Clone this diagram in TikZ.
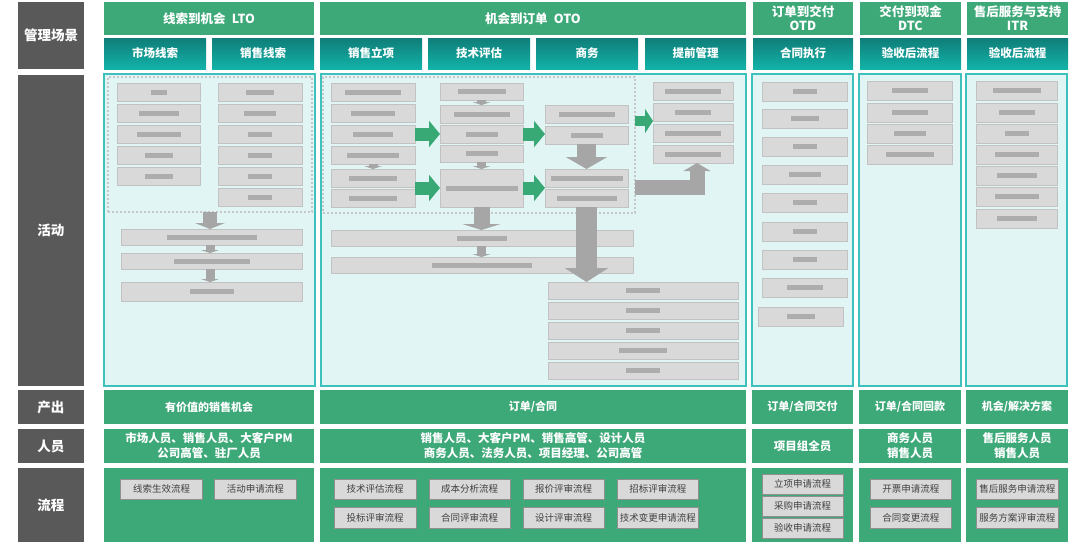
\documentclass[tikz,border=0pt]{standalone}
\usepackage{fontspec}
\setmainfont{Noto Sans CJK SC}
\usetikzlibrary{arrows.meta,calc}
\definecolor{lbl}{HTML}{595959}
\definecolor{hgreen}{HTML}{3DA878}
\definecolor{tealA}{HTML}{0F7E78}
\definecolor{tealB}{HTML}{12B2A9}
\definecolor{actfill}{HTML}{E2F5F5}
\definecolor{actline}{HTML}{3EC1BD}
\definecolor{gfill}{HTML}{D9D9D9}
\definecolor{gline}{HTML}{C2C2C2}
\definecolor{blurc}{HTML}{ADADAD}
\definecolor{arrgray}{HTML}{A6A6A6}
\definecolor{arrgreen}{HTML}{38A874}
\definecolor{btnline}{HTML}{8F8F8F}
\definecolor{btntext}{HTML}{404040}
\newcommand{\bx}[7]{%
  \pgfmathsetmacro\bxw{(#5)-(#3)}%
  \pgfmathsetmacro\bxh{(#6)-(#4)}%
  \node[#1, minimum width=\bxw pt, minimum height=\bxh pt] (#2) at ({((#3)+(#5))/2},{((#4)+(#6))/2}) {#7};}
\tikzset{
  base/.style={inner sep=0pt, outer sep=0pt, align=center},
  lblbox/.style={base, fill=lbl, text=white, font=\bfseries\fontsize{13.5}{15}\selectfont},
  hdr/.style={base, fill=hgreen, text=white, font=\bfseries\fontsize{12.5}{14}\selectfont},
  subhdr/.style={base, top color=tealA, bottom color=tealB, text=white, font=\bfseries\fontsize{11.5}{13}\selectfont},
  act/.style={base, fill=actfill, draw=actline, line width=1.2pt},
  dotframe/.style={base, draw=black!22, line width=1.6pt, dash pattern=on 1.8pt off 2.2pt},
  gbox/.style={base, fill=gfill, draw=gline, line width=1pt,
    path picture={\fill[blurc] ($(path picture bounding box.center)+(-#1,-2.5)$) rectangle ($(path picture bounding box.center)+(#1,2.5)$);}},
  gbox/.default=14,
  outbox/.style={base, fill=hgreen, text=white, font=\bfseries\fontsize{11}{13}\selectfont},
  pplbox/.style={base, fill=hgreen, text=white, font=\bfseries\fontsize{11.5}{15}\selectfont},
  procbox/.style={base, fill=hgreen},
  btn/.style={base, fill=gfill, draw=btnline, line width=0.8pt, text=btntext, font=\fontsize{9.5}{11}\selectfont},
  garrow/.style={draw=arrgreen, line width=13pt, -{Triangle[length=11pt,width=26pt]}},
  grayarrow/.style={draw=arrgray, line width=14pt, line join=miter, -{Triangle[length=6pt,width=30pt]}},
  smallarrow/.style={draw=arrgray, line width=9pt, -{Triangle[length=3pt,width=18pt]}},
}
\begin{document}
\begin{tikzpicture}[x=1pt,y=-1pt]
\fill[white] (0,0) rectangle (1080,544);
\useasboundingbox (0,0) rectangle (1080,544);
% ---------- left labels
\bx{lblbox}{Lgl}{18}{2}{84}{69}{管理场景}
\bx{lblbox}{Lhd}{18}{75}{84}{386}{活动}
\bx{lblbox}{Lcc}{18}{390}{84}{424}{产出}
\bx{lblbox}{Lry}{18}{429}{84}{463}{人员}
\bx{lblbox}{Llc}{18}{468}{84}{542}{流程}
% ---------- headers
\bx{hdr}{Hlto}{104}{2}{314}{35}{线索到机会\hspace{0.5em}LTO}
\bx{hdr}{Hoto}{320}{2}{746}{35}{机会到订单\hspace{0.5em}OTO}
\bx{hdr}{Hotd}{753}{2}{853}{35}{订单到交付\\OTD}
\bx{hdr}{Hdtc}{860}{2}{961}{35}{交付到现金\\DTC}
\bx{hdr}{Hitr}{967}{2}{1068}{35}{售后服务与支持\\ITR}
\bx{subhdr}{S1}{104}{38}{206}{69}{市场线索}
\bx{subhdr}{S2}{212}{38}{314}{69}{销售线索}
\bx{subhdr}{S3}{320}{38}{422}{69}{销售立项}
\bx{subhdr}{S4}{428}{38}{530}{69}{技术评估}
\bx{subhdr}{S5}{536}{38}{638}{69}{商务}
\bx{subhdr}{S6}{645}{38}{746}{69}{提前管理}
\bx{subhdr}{S7}{753}{38}{853}{69}{合同执行}
\bx{subhdr}{S8}{860}{38}{961}{69}{验收后流程}
\bx{subhdr}{S9}{967}{38}{1068}{69}{验收后流程}
% ---------- activity frames
\bx{act}{Alto}{104}{74}{315}{386}{}
\bx{act}{Aoto}{321}{74}{746}{386}{}
\bx{act}{Aotd}{752}{74}{853}{386}{}
\bx{act}{Adtc}{859}{74}{961}{386}{}
\bx{act}{Aitr}{966}{74}{1067}{386}{}
% ---------- LTO activities
\bx{dotframe}{dL}{108}{77}{312}{212}{}
\foreach \i/\y/\w in {1/83/8,2/104/20,3/125/22,4/146/14,5/167/14}{\bx{gbox=\w}{la\i}{117}{\y}{200}{\y+18}{}}
\foreach \i/\y/\w in {1/83/14,2/104/16,3/125/12,4/146/12,5/167/12,6/188/12}{\bx{gbox=\w}{lb\i}{218}{\y}{302}{\y+18}{}}
\bx{gbox=45}{lw1}{121}{229}{302}{245}{}
\bx{gbox=38}{lw2}{121}{253}{302}{269}{}
\bx{gbox=22}{lw3}{121}{282}{302}{301}{}
\draw[grayarrow] (dL.south) -- (dL.south |- lw1.north);
\draw[smallarrow] (lw1.south -| dL.south) -- (lw2.north -| dL.south);
\draw[smallarrow] (lw2.south -| dL.south) -- (lw3.north -| dL.south);
% ---------- OTO activities
\bx{dotframe}{dO}{323}{77}{635}{213}{}
\foreach \i/\y/\w in {1/83/28,2/104/22,3/125/20,4/146/26}{\bx{gbox=\w}{a\i}{331}{\y}{415}{\y+18}{}}
\bx{gbox=24}{a5}{331}{169}{415}{187}{}
\bx{gbox=24}{a6}{331}{189}{415}{207}{}
\bx{gbox=24}{b0}{440}{83}{523}{100}{}
\bx{gbox=28}{b1}{440}{105}{523}{123}{}
\bx{gbox=16}{b2}{440}{125}{523}{143}{}
\bx{gbox=16}{b3}{440}{145}{523}{162}{}
\bx{gbox=36}{bT}{440}{169}{523}{207}{}
\bx{gbox=28}{c1}{545}{105}{628}{123}{}
\bx{gbox=16}{c2}{545}{126}{628}{144}{}
\bx{gbox=36}{c3}{545}{169}{628}{187}{}
\bx{gbox=30}{c4}{545}{189}{628}{207}{}
\foreach \i/\y/\w in {1/82/28,2/103/18,3/124/28,4/145/28}{\bx{gbox=\w}{d\i}{653}{\y}{733}{\y+18}{}}
\bx{gbox=25}{ow1}{331}{230}{633}{246}{}
\bx{gbox=50}{ow2}{331}{257}{633}{273}{}
\foreach \i/\y/\w in {1/282/17,2/302/17,3/322/17,4/342/24,5/362/17}{\bx{gbox=\w}{s\i}{548}{\y}{738}{\y+17}{}}
\coordinate (dIn) at ($(d4.south)+(4,0)$);
\draw[smallarrow] (a4.south) -- (a5.north);
\draw[smallarrow] (b0.south) -- (b1.north);
\draw[smallarrow] (b3.south) -- (bT.north);
\draw[garrow] (a2.east |- b2.west) -- (b2.west);
\draw[garrow] (a5.east |- bT.west) -- (bT.west);
\draw[garrow] (b2.east) -- (c2.west |- b2.east);
\draw[garrow] (bT.east) -- (c3.west |- bT.east);
\draw[garrow, line width=10pt, -{Triangle[length=8pt,width=24pt]}] (dO.east |- d2.south west) -- (d2.south west);
\draw[grayarrow, line width=19pt, -{Triangle[length=12pt,width=41pt]}] (c2.south) -- (c3.north);
\draw[grayarrow, line width=15pt, -{Triangle[length=8pt,width=27pt]}] (dO.east |- c3.south) -| (dIn);
\draw[grayarrow, line width=16pt, -{Triangle[length=6pt,width=38pt]}] (bT.south) -- (bT.south |- ow1.north);
\draw[smallarrow] (ow1.south -| bT.south) -- (ow2.north -| bT.south);
\draw[grayarrow, line width=21pt, -{Triangle[length=14pt,width=43pt]}] (c4.south) -- (c4.south |- s1.north);
% ---------- OTD / DTC / ITR activities
\foreach \i/\y/\w in {1/82/12,2/109/14,3/137/12,4/165/16,5/193/12,6/222/12,7/250/12,8/278/18}{\bx{gbox=\w}{o\i}{762}{\y}{847}{\y+19}{}}
\bx{gbox=14}{o9}{758}{307}{843}{326}{}
\foreach \i/\y/\w in {1/81/18,2/103/18,3/124/16,4/145/24}{\bx{gbox=\w}{t\i}{867}{\y}{952}{\y+19}{}}
\foreach \i/\y/\w in {1/81/24,2/103/18,3/124/12,4/145/22,5/166/20,6/187/22,7/209/20}{\bx{gbox=\w}{i\i}{976}{\y}{1057}{\y+19}{}}
% ---------- output row
\bx{outbox}{Plto}{104}{390}{314}{424}{有价值的销售机会}
\bx{outbox}{Poto}{320}{390}{746}{424}{订单/合同}
\bx{outbox}{Potd}{752}{390}{853}{424}{订单/合同交付}
\bx{outbox}{Pdtc}{859}{390}{961}{424}{订单/合同回款}
\bx{outbox}{Pitr}{966}{390}{1068}{424}{机会/解决方案}
% ---------- people row
\bx{pplbox}{Rlto}{104}{429}{314}{463}{市场人员、销售人员、大客户PM\\公司高管、驻厂人员}
\bx{pplbox}{Roto}{320}{429}{746}{463}{销售人员、大客户PM、销售高管、设计人员\\商务人员、法务人员、项目经理、公司高管}
\bx{pplbox}{Rotd}{752}{429}{853}{463}{项目组全员}
\bx{pplbox}{Rdtc}{859}{429}{961}{463}{商务人员\\销售人员}
\bx{pplbox}{Ritr}{966}{429}{1068}{463}{售后服务人员\\销售人员}
% ---------- process row
\bx{procbox}{Clto}{104}{468}{314}{542}{}
\bx{procbox}{Coto}{320}{468}{746}{542}{}
\bx{procbox}{Cotd}{752}{468}{853}{542}{}
\bx{procbox}{Cdtc}{859}{468}{961}{542}{}
\bx{procbox}{Citr}{966}{468}{1068}{542}{}
\bx{btn}{p1}{120.5}{479}{202.5}{499.5}{线索生效流程}
\bx{btn}{p2}{214.5}{479}{296}{499.5}{活动申请流程}
\bx{btn}{p3}{334}{479}{416}{499.5}{技术评估流程}
\bx{btn}{p4}{429}{479}{510}{499.5}{成本分析流程}
\bx{btn}{p5}{523}{479}{604}{499.5}{报价评审流程}
\bx{btn}{p6}{617.5}{479}{698}{499.5}{招标评审流程}
\bx{btn}{p7}{334}{507}{416}{528}{投标评审流程}
\bx{btn}{p8}{429}{507}{510}{528}{合同评审流程}
\bx{btn}{p9}{523}{507}{604}{528}{设计评审流程}
\bx{btn}{p10}{617.5}{507}{698}{528}{技术变更申请流程}
\bx{btn}{p11}{762}{474}{843}{494}{立项申请流程}
\bx{btn}{p12}{762}{496}{843}{516}{采购申请流程}
\bx{btn}{p13}{762}{518}{843}{538}{验收申请流程}
\bx{btn}{p14}{870}{479}{951.5}{499.5}{开票申请流程}
\bx{btn}{p15}{870}{507}{951.5}{528}{合同变更流程}
\bx{btn}{p16}{976.5}{479}{1058}{499.5}{售后服务申请流程}
\bx{btn}{p17}{976.5}{507}{1058}{528}{服务方案评审流程}
\end{tikzpicture}
\end{document}
